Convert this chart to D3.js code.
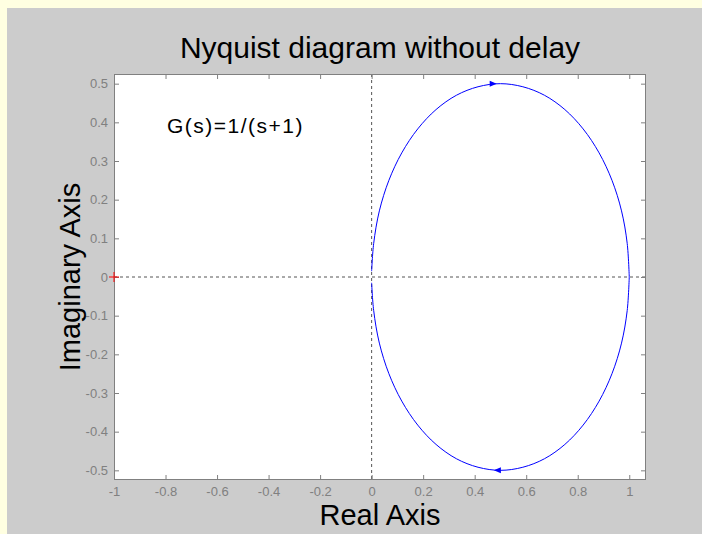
<!DOCTYPE html>
<html>
<head>
<meta charset="utf-8">
<script src="https://cdn.jsdelivr.net/npm/d3@7"></script>
<style>
  body { margin: 0; background: #ffffe1; }
  text { font-family: "Liberation Sans", Arial, sans-serif; }
</style>
</head>
<body>
<div id="vis"></div>
<script>
// values
var xTicks = [-1, -0.8, -0.6, -0.4, -0.2, 0, 0.2, 0.4, 0.6, 0.8, 1];
var yTicks = [-0.5, -0.4, -0.3, -0.2, -0.1, 0, 0.1, 0.2, 0.3, 0.4, 0.5];

// negative frequencies: upper half, from origin to (1,0)
var negRe = [0.000, 0.008, 0.030, 0.067, 0.117, 0.179, 0.250, 0.329, 0.413, 0.500, 0.587, 0.671, 0.750, 0.821, 0.883, 0.933, 0.970, 0.992, 1.000];
var negIm = [0.015, 0.087, 0.171, 0.250, 0.321, 0.383, 0.433, 0.470, 0.492, 0.500, 0.492, 0.470, 0.433, 0.383, 0.321, 0.250, 0.171, 0.087, 0.000];
// positive frequencies: lower half, from (1,0) back to origin
var posRe = [1.000, 0.992, 0.970, 0.933, 0.883, 0.821, 0.750, 0.671, 0.587, 0.500, 0.413, 0.329, 0.250, 0.179, 0.117, 0.067, 0.030, 0.008, 0.000];
var posIm = [0.000, -0.087, -0.171, -0.250, -0.321, -0.383, -0.433, -0.470, -0.492, -0.500, -0.492, -0.470, -0.433, -0.383, -0.321, -0.250, -0.171, -0.087, -0.015];

// direction arrows on the curve
var arrowRe = [0.47, 0.49];
var arrowIm = [0.5, -0.5];
var arrowDir = [1, -1];

var W = 702, H = 534;
var margin = { top: 74, right: 56, bottom: 54, left: 114 };
var width = W - margin.left - margin.right,
    height = H - margin.top - margin.bottom;

var root = d3.select("#vis").append("svg")
    .attr("width", W)
    .attr("height", H);

// figure background
root.append("rect")
    .attr("x", 7).attr("y", 8)
    .attr("width", W - 7).attr("height", H - 8)
    .attr("fill", "#cccccc");

var svg = root.append("g")
    .attr("transform", "translate(" + margin.left + "," + margin.top + ")");

var x = d3.scaleLinear().domain([-1, 1.065]).range([0, width]);
var y = d3.scaleLinear().domain([-0.525, 0.525]).range([height, 0]);

svg.append("rect")
    .attr("width", width).attr("height", height)
    .attr("fill", "white");

// zero lines
svg.append("line")
    .attr("x1", 0).attr("x2", width)
    .attr("y1", y(0)).attr("y2", y(0))
    .attr("stroke", "#555").attr("stroke-dasharray", "3,3");
svg.append("line")
    .attr("x1", x(0)).attr("x2", x(0))
    .attr("y1", 0).attr("y2", height)
    .attr("stroke", "#555").attr("stroke-dasharray", "3,3");

// plain hyphen for negatives, like matlab
var fmt = d => d3.format("~g")(d).replace("\u2212", "-");

//axes, matlab style ticks inside on all four sides
{
    var tickCol = "#808080";
    var xAxis = d3.axisBottom(x).tickValues(xTicks).tickSize(-5).tickPadding(7).tickFormat(fmt);
    var yAxis = d3.axisLeft(y).tickValues(yTicks).tickSize(-5).tickPadding(6).tickFormat(fmt);

    var gx = svg.append("g").attr("transform", "translate(0," + height + ")").call(xAxis);
    var gy = svg.append("g").call(yAxis);
    var gx2 = svg.append("g").call(d3.axisTop(x).tickValues(xTicks).tickSize(-5).tickFormat(""));
    var gy2 = svg.append("g").attr("transform", "translate(" + width + ",0)")
        .call(d3.axisRight(y).tickValues(yTicks).tickSize(-5).tickFormat(""));

    [gx, gy, gx2, gy2].forEach(function (g) {
        g.select(".domain").remove();
        g.selectAll("line").attr("stroke", tickCol);
        g.selectAll("text").attr("fill", tickCol)
            .style("font-size", "13px")
            .style("font-family", "'Liberation Sans', Arial, sans-serif");
    });

    svg.append("rect")
        .attr("x", 0.5).attr("y", 0.5)
        .attr("width", width - 1).attr("height", height - 1)
        .attr("fill", "none").attr("stroke", tickCol);
}

// nyquist curve
var line = d3.line()
    .x(d => x(d[0]))
    .y(d => y(d[1]))
    .curve(d3.curveCatmullRom);

[[negRe, negIm], [posRe, posIm]].forEach(function (s) {
    svg.append("path")
        .datum(d3.zip(s[0], s[1]))
        .attr("d", line)
        .attr("fill", "none")
        .attr("stroke", "#0000ff")
        .attr("stroke-width", 1);
});

svg.selectAll(".arrow")
    .data(d3.zip(arrowRe, arrowIm, arrowDir))
    .enter().append("path")
    .attr("class", "arrow")
    .attr("transform", d => "translate(" + x(d[0]) + "," + y(d[1]) + ")")
    .attr("d", d => "M" + (4 * d[2]) + ",0L" + (-3 * d[2]) + ",-3L" + (-3 * d[2]) + ",3Z")
    .attr("fill", "#0000ff");

// critical point
svg.append("path")
    .attr("transform", "translate(" + x(-1) + "," + y(0) + ")")
    .attr("d", "M-5,0H5M0,-5V5")
    .attr("stroke", "red")
    .attr("stroke-width", 1);

svg.append("text")
    .attr("x", 53).attr("y", 59)
    .style("font-size", "21px")
    .style("letter-spacing", "1.5px")
    .text("G(s)=1/(s+1)");

// titles
root.append("text")
    .attr("x", margin.left + width / 2).attr("y", 58)
    .attr("text-anchor", "middle")
    .style("font-size", "30px")
    .text("Nyquist diagram without delay");

root.append("text")
    .attr("x", margin.left + width / 2).attr("y", 525)
    .attr("text-anchor", "middle")
    .style("font-size", "29px")
    .text("Real Axis");

root.append("text")
    .attr("transform", "translate(80," + (margin.top + height / 2) + ") rotate(-90)")
    .attr("text-anchor", "middle")
    .style("font-size", "29px")
    .text("Imaginary Axis");
</script>
</body>
</html>
